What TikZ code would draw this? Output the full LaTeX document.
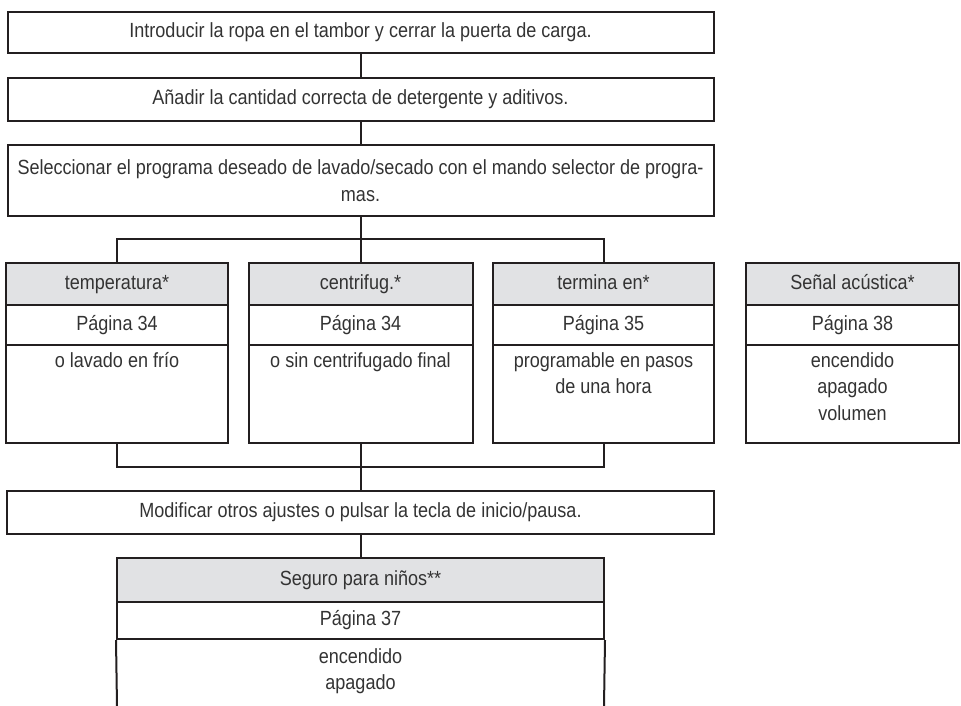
\documentclass[tikz,border=0pt]{standalone}
\usepackage{fontspec}
\setmainfont{Liberation Sans}[FakeStretch=0.88]
\definecolor{linec}{HTML}{231F20}
\definecolor{txtc}{HTML}{333333}
\definecolor{headc}{HTML}{E1E2E4}
\tikzset{
  box/.style={draw=linec, line width=2pt, inner sep=0pt, text=txtc, align=center,
    font=\fontsize{20.5}{27}\selectfont, text height=15pt, text depth=4.5pt},
  tallbox/.style={draw=linec, line width=2pt, inner sep=0pt, text=txtc, align=center,
    font=\fontsize{20.5}{26.5}\selectfont},
  headbox/.style={box, fill=headc},
  bodytext/.style={anchor=north, inner sep=0pt, text=txtc, align=center,
    font=\fontsize{20.5}{26.5}\selectfont, yshift=-8pt},
  conn/.style={draw=linec, line width=2pt},
}
\begin{document}
\begin{tikzpicture}[x=1pt,y=-1pt]
\useasboundingbox (0,0) rectangle (961,705);
% top steps
\node[box, minimum width=706pt, minimum height=41pt] (b1) at (360.5,32.5)
  {Introducir la ropa en el tambor y cerrar la puerta de carga.};
\node[box, minimum width=706pt, minimum height=43pt] (b2) at (360.5,99.5)
  {Añadir la cantidad correcta de detergente y aditivos.};
\node[tallbox, minimum width=706pt, minimum height=71pt] (b3) at (360.5,180.5)
  {Seleccionar el programa deseado de lavado/secado con el mando selector de progra-\\mas.};
% four option boxes
\node[headbox, minimum width=222pt, minimum height=42pt] (ah) at (117,284) {temperatura*};
\node[box, minimum width=222pt, minimum height=40pt] (ap) at (117,325) {Página 34};
\node[box, minimum width=222pt, minimum height=98pt] (ab) at (117,394) {};
\node[bodytext] (at) at (ab.north) {o lavado en frío};

\node[headbox, minimum width=224pt, minimum height=42pt] (bh) at (360.5,284) {centrifug.*};
\node[box, minimum width=224pt, minimum height=40pt] (bp) at (360.5,325) {Página 34};
\node[box, minimum width=224pt, minimum height=98pt] (bb) at (360.5,394) {};
\node[bodytext] (bt) at (bb.north) {o sin centrifugado final};

\node[headbox, minimum width=221pt, minimum height=42pt] (ch) at (603.5,284) {termina en*};
\node[box, minimum width=221pt, minimum height=40pt] (cp) at (603.5,325) {Página 35};
\node[box, minimum width=221pt, minimum height=98pt] (cb) at (603.5,394) {};
\node[bodytext] (ct) at (cb.north) {programable en pasos\\de una hora};

\node[headbox, minimum width=213pt, minimum height=42pt] (dh) at (852.5,284) {Señal acústica*};
\node[box, minimum width=213pt, minimum height=40pt] (dp) at (852.5,325) {Página 38};
\node[box, minimum width=213pt, minimum height=98pt] (db) at (852.5,394) {};
\node[bodytext] (dt) at (db.north) {encendido\\apagado\\volumen};
% modify step
\node[box, minimum width=707pt, minimum height=43pt] (mod) at (360.5,512.5)
  {Modificar otros ajustes o pulsar la tecla de inicio/pausa.};
% child lock
\node[headbox, minimum width=487pt, minimum height=44pt] (sh) at (360.5,580) {Seguro para niños**};
\node[box, minimum width=487pt, minimum height=37pt] (sp) at (360.5,620.5) {Página 37};
\coordinate (slb) at (117,706);
\coordinate (srb) at (604,706);
\draw[conn] (sp.south west) -- (slb);
\draw[conn] (sp.south east) -- (srb);
\node[bodytext] (st) at (sp.south) {encendido\\apagado};
% connectors
\coordinate (bar1) at (360.5,239);
\coordinate (bar2) at (360.5,467);
\draw[conn] (b1) -- (b2);
\draw[conn] (b2) -- (b3);
\draw[conn] (b3.south) -- (bar1);
\draw[conn] (ah.north) |- (bar1) -| (ch.north);
\draw[conn] (bar1) -- (bh.north);
\draw[conn] (ab.south) |- (bar2) -| (cb.south);
\draw[conn] (bb.south) -- (mod.north);
\draw[conn] (mod.south) -- (sh.north);
\end{tikzpicture}
\end{document}
